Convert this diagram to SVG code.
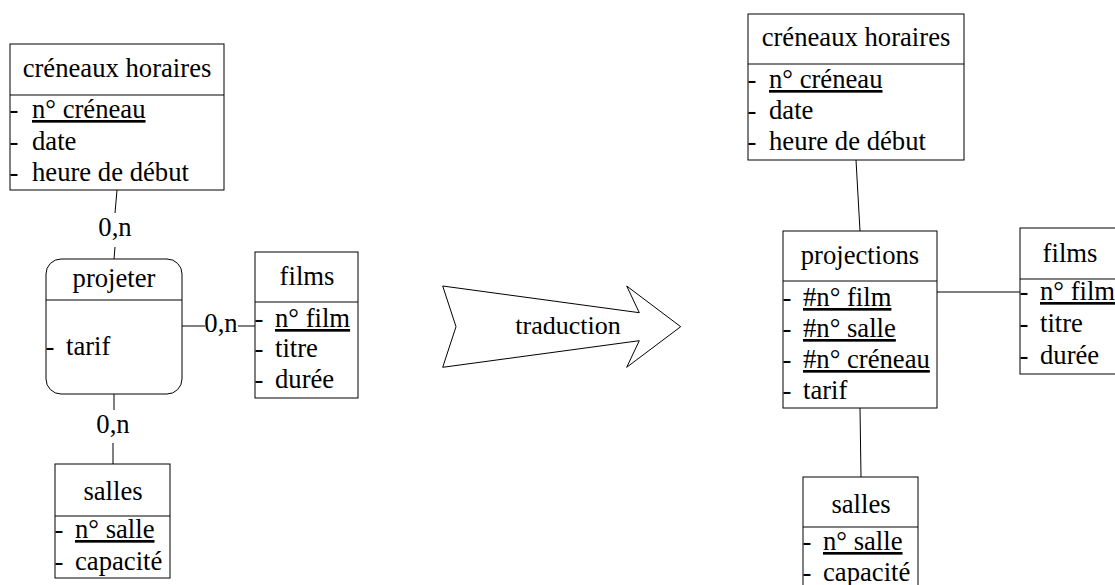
<svg xmlns="http://www.w3.org/2000/svg" width="1115" height="585" viewBox="0 0 1115 585">
<style>
text{font-family:"Liberation Serif","Times New Roman",serif;font-size:26.67px;fill:#000}
.t{text-anchor:middle}
.u{text-decoration:underline}
.box{fill:#fff;stroke:#000;stroke-width:1}
.ln{stroke:#000;stroke-width:1;fill:none}
</style>
<rect width="1115" height="585" fill="#fff"/>
<g id="connectors">
<line class="ln" x1="117" y1="190" x2="115" y2="213"/>
<line class="ln" x1="115" y1="247" x2="114" y2="259"/>
<text class="t" x="115" y="236">0,n</text>
<line class="ln" x1="182" y1="326" x2="205" y2="326"/>
<text class="t" x="221" y="332">0,n</text>
<line class="ln" x1="238" y1="326" x2="255" y2="326"/>
<line class="ln" x1="114" y1="394" x2="114" y2="410"/>
<text class="t" x="113" y="433">0,n</text>
<line class="ln" x1="113" y1="443" x2="113" y2="464"/>
<line class="ln" x1="856" y1="160" x2="860" y2="231"/>
<line class="ln" x1="937" y1="292" x2="1020" y2="292"/>
<line class="ln" x1="860" y1="408" x2="861" y2="477"/>
</g>
<g id="creneaux-left">
<rect class="box" x="10" y="44" width="214" height="146"/>
<line class="ln" x1="10" y1="95" x2="224" y2="95"/>
<text class="t" x="117" y="77">créneaux horaires</text>
<text x="9.5" y="118">-</text><text class="u" x="32" y="118">n° créneau</text>
<text x="9.5" y="149.5">-</text><text x="32" y="149.5">date</text>
<text x="9.5" y="181">-</text><text x="32" y="181">heure de début</text>
</g>
<g id="projeter">
<rect class="box" x="46" y="259" width="136" height="135" rx="15"/>
<line class="ln" x1="46" y1="300" x2="182" y2="300"/>
<text class="t" x="114" y="287">projeter</text>
<text x="45.5" y="355">-</text><text x="66" y="355">tarif</text>
</g>
<g id="films-left">
<rect class="box" x="255" y="252" width="103" height="146"/>
<line class="ln" x1="255" y1="302" x2="358" y2="302"/>
<text class="t" x="307" y="285">films</text>
<text x="254.5" y="327">-</text><text class="u" x="275" y="327">n° film</text>
<text x="254.5" y="357">-</text><text x="275" y="357">titre</text>
<text x="254.5" y="388">-</text><text x="275" y="388">durée</text>
</g>
<g id="salles-left">
<rect class="box" x="55" y="464" width="115" height="114"/>
<line class="ln" x1="55" y1="516" x2="170" y2="516"/>
<text class="t" x="113" y="500">salles</text>
<text x="54.5" y="538">-</text><text class="u" x="75" y="538">n° salle</text>
<text x="54.5" y="570">-</text><text x="75" y="570">capacité</text>
</g>
<g id="traduction">
<polygon class="box" points="442.7,286 639.3,312.7 626.7,286 680.7,326.7 626.7,367.3 639.3,340.7 442.7,367.3 456,326.7"/>
<text class="t" x="568" y="334" style="font-size:26px">traduction</text>
</g>
<g id="creneaux-right">
<rect class="box" x="748" y="14" width="216" height="146"/>
<line class="ln" x1="748" y1="64" x2="964" y2="64"/>
<text class="t" x="856" y="46">créneaux horaires</text>
<text x="747.5" y="88">-</text><text class="u" x="769" y="88">n° créneau</text>
<text x="747.5" y="119">-</text><text x="769" y="119">date</text>
<text x="747.5" y="150">-</text><text x="769" y="150">heure de début</text>
</g>
<g id="projections">
<rect class="box" x="783" y="231" width="154" height="177"/>
<line class="ln" x1="783" y1="281" x2="937" y2="281"/>
<text class="t" x="860" y="264">projections</text>
<text x="782.5" y="306">-</text><text class="u" x="803" y="306">#n° film</text>
<text x="782.5" y="337">-</text><text class="u" x="803" y="337">#n° salle</text>
<text x="782.5" y="368">-</text><text class="u" x="803" y="368">#n° créneau</text>
<text x="782.5" y="399">-</text><text x="803" y="399">tarif</text>
</g>
<g id="films-right">
<rect class="box" x="1020" y="228" width="110" height="146"/>
<line class="ln" x1="1020" y1="279" x2="1130" y2="279"/>
<text class="t" x="1070" y="262">films</text>
<text x="1019.5" y="300">-</text><text class="u" x="1040" y="300">n° film</text>
<text x="1019.5" y="332">-</text><text x="1040" y="332">titre</text>
<text x="1019.5" y="364">-</text><text x="1040" y="364">durée</text>
</g>
<g id="salles-right">
<rect class="box" x="803" y="477" width="115" height="130"/>
<line class="ln" x1="803" y1="527" x2="918" y2="527"/>
<text class="t" x="861" y="513">salles</text>
<text x="802.5" y="550">-</text><text class="u" x="823" y="550">n° salle</text>
<text x="802.5" y="581">-</text><text x="823" y="581">capacité</text>
</g>
</svg>
